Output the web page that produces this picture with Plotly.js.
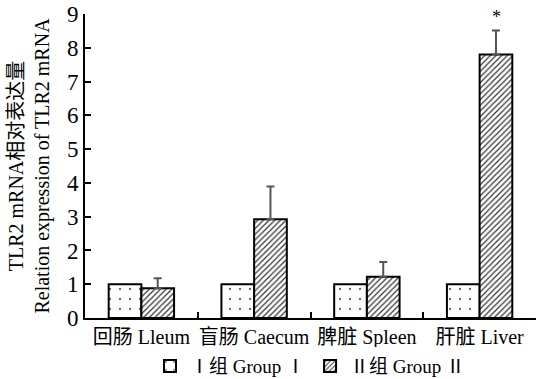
<!DOCTYPE html>
<html><head><meta charset="utf-8">
<script src="https://cdn.plot.ly/plotly-3.0.1.min.js"></script>
<style>html,body{margin:0;padding:0;background:#fff}</style>
</head><body>
<div id="chart" style="width:542px;height:379px"></div>
<script>
const categories = ['回肠 Lleum', '盲肠 Caecum', '脾脏 Spleen', '肝脏 Liver'];
const group1 = [1, 1, 1, 1];
const group2 = [0.88, 2.92, 1.22, 7.80];
const group2Err = [0.30, 0.97, 0.44, 0.71];
const yTicks = [0, 1, 2, 3, 4, 5, 6, 7, 8, 9];
const seriesNames = ['Ⅰ组 Group Ⅰ', 'Ⅱ组 Group Ⅱ'];
const sigLabel = '*';
const sigIndex = 3;

const FONT = 'Liberation Serif, "Noto Sans CJK SC", serif';

const traces = [
  {
    type: 'bar', x: categories, y: group1, name: seriesNames[0],
    marker: {color: '#ffffff', line: {color: '#000', width: 2},
      pattern: {shape: '.', fgcolor: '#666', bgcolor: '#fff', size: 10, solidity: 0.04}}
  },
  {
    type: 'bar', x: categories, y: group2, name: seriesNames[1],
    marker: {color: '#ffffff', line: {color: '#000', width: 2},
      pattern: {shape: '/', fgcolor: '#333', bgcolor: '#fff', size: 4, solidity: 0.3}},
    error_y: {type: 'data', symmetric: false, array: group2Err, arrayminus: group2.map(() => 0),
      color: '#555', thickness: 2, width: 4}
  }
];

const layout = {
  width: 542, height: 379,
  margin: {l: 85, r: 6, t: 14, b: 61, autoexpand: false},
  paper_bgcolor: '#fff', plot_bgcolor: '#fff',
  font: {family: FONT, color: '#000', size: 19},
  barmode: 'group', bargap: 0.42, bargroupgap: 0,
  showlegend: true,
  legend: {orientation: 'h', x: 0.5, xanchor: 'center', y: -0.158, yanchor: 'middle',
    font: {size: 19, family: FONT}, itemwidth: 30, tracegroupgap: 0},
  xaxis: {
    type: 'category', showline: true, linecolor: '#000', linewidth: 2, automargin: false,
    ticks: 'inside', tickson: 'boundaries', ticklen: 6, tickwidth: 2, tickcolor: '#000',
    showgrid: false, zeroline: false, tickangle: 0, tickfont: {size: 20, family: FONT}
  },
  yaxis: {
    range: [0, 9], tickvals: yTicks, ticktext: yTicks.map(String), automargin: false,
    showline: true, linecolor: '#000', linewidth: 2,
    ticks: 'inside', ticklen: 6, tickwidth: 2, tickcolor: '#000',
    showgrid: false, zeroline: false, tickfont: {size: 23, family: FONT},
    title: {text: 'TLR2 mRNA相对表达量<br>Relation expression of TLR2 mRNA', font: {size: 20, family: FONT}, standoff: 12}
  },
  annotations: [{
    x: sigIndex + 0.146, y: group2[sigIndex] + group2Err[sigIndex], xref: 'x', yref: 'y',
    text: sigLabel, showarrow: false, yanchor: 'bottom', yshift: 2,
    font: {size: 18, family: FONT}
  }]
};

Plotly.newPlot('chart', traces, layout, {displayModeBar: false, staticPlot: true});
</script>
</body></html>
